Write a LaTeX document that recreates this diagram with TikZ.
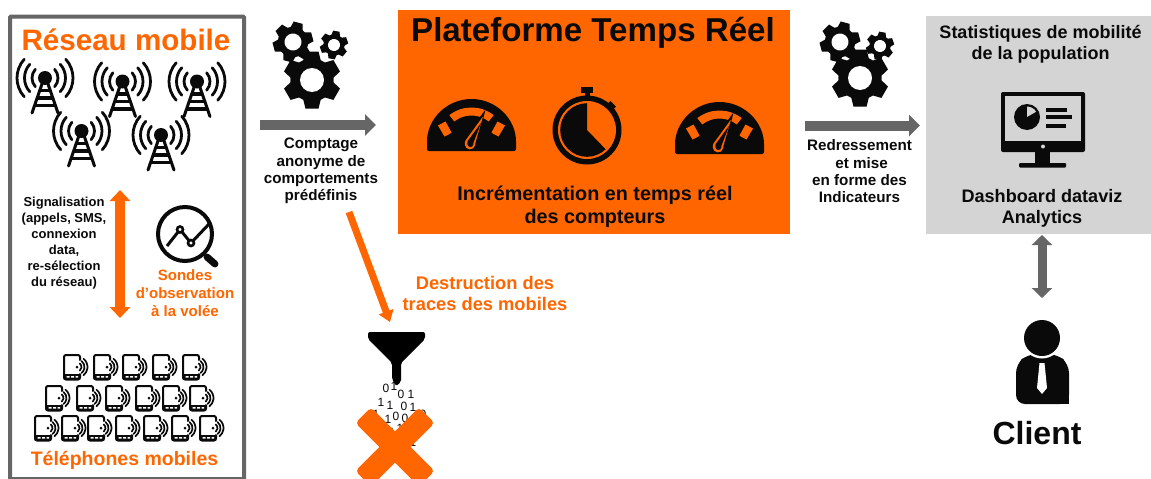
\documentclass[tikz,border=0pt]{standalone}
\usepackage{fontspec}
\setmainfont{Liberation Sans}
\usetikzlibrary{arrows.meta,calc}
\definecolor{orng}{HTML}{FF6600}
\definecolor{dgray}{HTML}{666666}
\definecolor{lgray}{HTML}{D4D4D4}
\definecolor{ink}{HTML}{0A0A0A}
\newcommand{\fsz}[2]{\fontsize{#1}{#2}\selectfont}
\newcommand{\towericon}[2]{%
  \begin{scope}[shift={(#1,#2)},ink]
    \fill (0,0) circle (7);
    \draw[line width=3,line cap=round,line join=round] (-2,3) -- (-13,35) (2,3) -- (13,35);
    \draw[line width=3.2] (-5.5,12.5) -- (5.5,12.5) (-8,20) -- (8,20) (-10,27.5) -- (10,27.5);
    \foreach \r in {13,20.5,28}{
      \draw[line width=2.8,line cap=round] (-42:\r) arc[start angle=-42,end angle=42,radius=\r];
      \draw[line width=2.8,line cap=round] (138:\r) arc[start angle=138,end angle=222,radius=\r];
    }
  \end{scope}}
\newcommand{\phoneicon}[2]{%
  \begin{scope}[shift={(#1,#2)},ink]
    \draw[line width=2,rounded corners=2] (1,-12) rectangle (17,12.5);
    \fill (1,7) rectangle (17,12.5);
    \fill[white] (3.5,9) rectangle (6.5,10.5) (8,9) rectangle (11,10.5) (12.5,9) rectangle (15,10.5);
    \fill[white] (17.5,0) circle (6.5);
    \fill (14,0) circle (1.5);
    \foreach \r in {4.5,7.5,10.5}{
      \draw[line width=1.7,line cap=round] ($(14,0)+(-52:\r)$) arc[start angle=-52,end angle=52,radius=\r];
    }
  \end{scope}}
\newcommand{\gearicon}[5]{%
  \begin{scope}[shift={(#1,#2)},rotate=#5,ink]
    \fill (0,0) circle ({0.76*#3});
    \foreach \a in {0,60,...,300}{
      \fill[rotate=\a] (-0.33*#3,0.6*#3) -- (-0.23*#3,#3) -- (0.23*#3,#3) -- (0.33*#3,0.6*#3) -- cycle;
    }
    \fill[white] (0,0) circle (#4);
  \end{scope}}
\newcommand{\gaugeicon}[3]{%
  \begin{scope}[shift={(#1,#2)},ink]
    \fill[rounded corners=2] (-44.5,7.5) -- (-44.5,0) arc[start angle=180,end angle=360,radius=44.5] -- (44.5,7.5) -- cycle;
    \fill[orng] (-128:#3) arc[start angle=-128,end angle=-52,radius=#3] -- (-52:28) arc[start angle=-52,end angle=-128,radius=28] -- cycle;
    \fill[orng] (-33.5,-18) -- (-26,-22) -- (-20,-11) -- (-22,-9.5) -- (-27,-7) -- cycle;
    \fill[orng] (33.5,-18) -- (26,-22) -- (20,-11) -- (22,-9.5) -- (27,-7) -- cycle;
    \fill[ink] (14,-34) -- (-9,-3) -- (5,3) -- cycle;
    \fill[orng] (11.5,-27) -- (-6,-3) .. controls (-9,3) and (-3,8) .. (1.5,5) .. controls (4,3) and (4,0) .. (4,-1) -- cycle;
    \fill[ink] (9.8,-21) -- (-3.8,-2.5) .. controls (-5.5,1.5) and (-2,5) .. (0.5,3) .. controls (2,2) and (2,0) .. (2,-1) -- cycle;
  \end{scope}}
\tikzset{
  lab/.style={font=\bfseries\fsz{15.2}{17.3},text=ink,align=center,inner sep=0pt},
  olab/.style={font=\bfseries\fsz{15}{18.3},text=orng,align=center,inner sep=0pt},
  grayarrow/.style={draw=dgray,line width=10,-{Triangle[width=21,length=11]}},
  orngarrow/.style={draw=orng,line width=10,{Triangle[width=20,length=11]}-{Triangle[width=20,length=11]}},
  digit/.style={font=\fsz{12}{12},text=ink,inner sep=0pt},
}
\begin{document}
\begin{tikzpicture}[x=1pt,y=1pt,yscale=-1]
\useasboundingbox (0,0) rectangle (1151,479);
\clip (0,0) rectangle (1151,479);
\fill[white] (0,0) rectangle (1151,479);

% left frame
\draw[dgray,line width=4,rounded corners=1] (10,16.5) rectangle (244,479);
\node[font=\bfseries\fsz{29.6}{30},text=orng,inner sep=0pt] (reseau) at (126,40) {Réseau mobile};
\towericon{45}{78}\towericon{122.5}{81.5}\towericon{197}{81.5}\towericon{81.5}{131}\towericon{161}{135}

\coordinate (sigtop) at (120,190);
\coordinate (sigbot) at (120,318);
\draw[orngarrow] (sigtop) -- (sigbot);
\node[lab,font=\bfseries\fsz{13}{15.9}] (signal) at (64,243) {Signalisation\\(appels, SMS,\\connexion\\data,\\re-sélection\\du réseau)};

% magnifier
\begin{scope}[ink]
  \draw[line width=4] (185,234) circle (27);
  \draw[line width=7,line cap=round] (207,257) -- (215,264);
  \draw[line width=3,line join=round] (167,246) -- (180,229.5) -- (191,243) -- (209,224);
  \fill[white,draw=ink,line width=2.6] (180,229.5) circle (3) (191,243) circle (3);
\end{scope}
\node[olab] (sondes) at (185,293) {Sondes\\d’observation\\à la volée};

% phones
\foreach \x in {63,93,122,152,182}{\phoneicon{\x}{367}}
\foreach \x in {45,76,105,135,162,189}{\phoneicon{\x}{398}}
\foreach \x in {34,61,87,115,143,171,199}{\phoneicon{\x}{428}}
\node[font=\bfseries\fsz{19.5}{20},text=orng,inner sep=0pt] (phones) at (124.5,460.5) {Téléphones  mobiles};

% gears and arrow 1
\gearicon{312}{80}{28.5}{12}{0}
\gearicon{293}{42}{20}{8.5}{15}
\gearicon{334}{45}{14}{6}{10}
\coordinate (a1s) at (260,125);
\coordinate (a1e) at (376,125);
\draw[grayarrow] (a1s) -- (a1e);
\node[lab] (comptage) at (321,171) {Comptage\\anonyme de\\comportements\\prédéfinis};

% platform
\fill[orng] (398,10) rectangle (790,234);
\node[font=\bfseries\fsz{33.1}{34},text=ink,inner sep=0pt] (plateforme) at (593,33) {Plateforme Temps Réel};
\gaugeicon{471.5}{143.5}{36}
\gaugeicon{719.5}{146.5}{36}
\begin{scope}[shift={(587,130)},ink]
  \fill (-6,-43) rectangle (6,-37);
  \fill (-2.5,-38) rectangle (2.5,-33);
  \fill[rotate=45] (-4,-37) rectangle (4,-31);
  \fill (0,0) circle (34.5);
  \fill[orng] (0,0) circle (29);
  \fill[ink] (0,0) -- (0,-26.8) arc[start angle=-90,end angle=-314,radius=26.8] -- cycle;
\end{scope}
\node[font=\bfseries\fsz{19.8}{23},text=ink,align=center,inner sep=0pt] (increment) at (595,206.5) {Incrémentation en temps réel\\des compteurs};

% gears and arrow 2
\gearicon{860}{78}{28.5}{12}{0}
\gearicon{840}{42}{20}{8.5}{15}
\gearicon{880}{46}{14}{6}{10}
\coordinate (a2s) at (805,125.5);
\coordinate (a2e) at (920,125.5);
\draw[grayarrow] (a2s) -- (a2e);
\node[lab] (redress) at (859.5,171.5) {Redressement\\\ et mise\\en forme des\\Indicateurs};

% gray box
\fill[lgray] (926,16) rectangle (1151,234);
\node[font=\bfseries\fsz{18}{21},text=ink,align=center,inner sep=0pt] (stats) at (1040.5,44.5) {Statistiques de mobilité\\de la population};
\begin{scope}[ink]
  \fill[rounded corners=2] (1001,92) rectangle (1085,152);
  \fill[lgray] (1005,96) rectangle (1081,141);
  \fill[lgray] (1043,146.5) circle (2);
  \fill (1035,152) rectangle (1050,164);
  \fill[rounded corners=1] (1019,163) rectangle (1066,167.5);
  \fill (1027,117) circle (13);
  \fill[lgray] (1027,117) -- (1027,106.5) arc[start angle=-90,end angle=-30,radius=10.5] -- cycle;
  \fill (1046,107.5) rectangle (1067,111.5);
  \fill (1046,115) rectangle (1072,119);
  \fill (1046,124) rectangle (1066,128);
\end{scope}
\node[font=\bfseries\fsz{18.1}{21},text=ink,align=center,inner sep=0pt] (dash) at (1042,208.5) {Dashboard dataviz\\Analytics};

% double arrow + client
\coordinate (cltop) at (1042,235);
\coordinate (clbot) at (1042,298);
\draw[draw=dgray,line width=9,{Triangle[width=20,length=10]}-{Triangle[width=20,length=10]}] (cltop) -- (clbot);
\begin{scope}[ink]
  \fill[rounded corners=9] (1016,404) -- (1016,364) -- (1028,354) -- (1057,354) -- (1069,364) -- (1069,404) -- cycle;
  \fill (1069,395) rectangle (1060,404);
  \fill[white] (1042,338) circle (20.5);
  \fill (1042,338) circle (18);
  \fill[white] (1039.5,363) -- (1044.5,363) -- (1047,388) -- (1042,394) -- (1037,388) -- cycle;
\end{scope}
\node[font=\bfseries\fsz{32}{34},text=ink,inner sep=0pt] (client) at (1037,433) {Client};

% destruction
\coordinate (dstart) at (349,212);
\coordinate (dend) at (390,322);
\draw[draw=orng,line width=7,-{Triangle[width=15,length=11]}] (dstart) -- (dend);
\node[font=\bfseries\fsz{18.3}{21},text=orng,align=center,inner sep=0pt] (destr) at (485,293.5) {Destruction des\\traces des mobiles};
\fill[black,rounded corners=2] (368,332) -- (425,332) -- (425,339) -- (401,363) -- (401,382) -- (396,386) -- (392,379) -- (392,363) -- (368,339) -- cycle;
\node[digit] (d1) at (386,388) {0};
\node[digit] (d2) at (394,386) {1};
\node[digit] (d3) at (401,394) {0};
\node[digit] (d4) at (411,394) {1};
\node[digit] (d5) at (381,402) {1};
\node[digit] (d6) at (390,405) {1};
\node[digit] (d7) at (404,406) {0};
\node[digit] (d8) at (413,407) {1};
\node[digit] (d9) at (376,414) {1};
\node[digit] (d10) at (396,416) {0};
\node[digit] (d11) at (388,419) {1};
\node[digit] (d12) at (405,418) {0};
\node[digit] (d13) at (423,414) {0};
\node[digit] (d14) at (400,428) {1};
\node[digit] (d15) at (392,432) {1};
\node[digit] (d16) at (413,442) {1};
\foreach \a in {45,-45}{
  \fill[orng,rounded corners=4,rotate around={\a:(395,447)}] (350,436) rectangle (440,458);
}
\end{tikzpicture}
\end{document}
